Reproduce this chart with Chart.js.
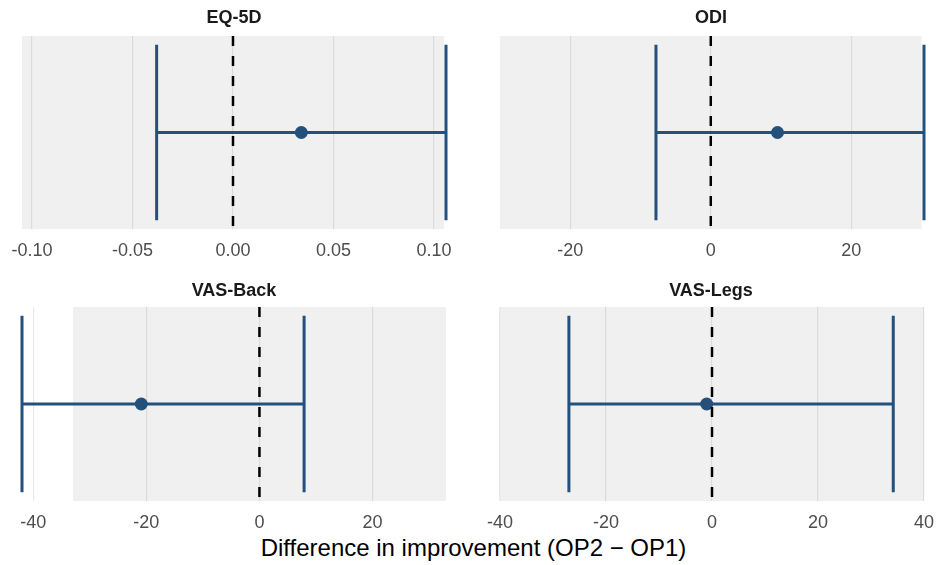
<!DOCTYPE html>
<html>
<head>
<meta charset="utf-8">
<script src="https://cdn.jsdelivr.net/npm/chart.js@4.4.0/dist/chart.umd.min.js"></script>
<style>
  body { margin: 0; background: #fff; font-family: "Liberation Sans", Arial, sans-serif; }
  #wrap { position: relative; width: 937px; height: 565px; overflow: hidden; }
  #wrap canvas { position: absolute; }
  .strip { position: absolute; width: 200px; margin-left: -100px; text-align: center;
           font-weight: bold; font-size: 18px; line-height: 20px; color: #1a1a1a; }
  #xtitle { position: absolute; left: 0; width: 947px; top: 534px; text-align: center;
            font-size: 24px; line-height: 28px; color: #000; }
</style>
</head>
<body>
<div id="wrap">
  <div id="xtitle">Difference in improvement (OP2 − OP1)</div>
</div>
<script>
// values
const panels = ['EQ-5D', 'ODI', 'VAS-Back', 'VAS-Legs'];
const estimates = [0.034, 9.5, -20.9, -1.0];
const lowerCI = [-0.038, -7.8, -42.0, -27.0];
const upperCI = [0.106, 30.35, 7.9, 34.2];
// grey band behind each panel
const bandMin = [-0.105, -30, -33, -40];
const bandMax = [0.105, 30, 33, 40];
const xTicks = [
    [-0.10, -0.05, 0, 0.05, 0.10],
    [-20, 0, 20],
    [-40, -20, 0, 20],
    [-40, -20, 0, 20, 40]
];
const tickDecimals = [2, 0, 0, 0];
const refLine = 0;

const barColor = '#24507c';
const capBottom = 0.045, capTop = 0.955, midY = 0.5;

// where each facet sits on the page
function layoutFor(i) {
    const col = i % 2, row = Math.floor(i / 2);
    return {
        left: col ? 470 : 0,
        width: col ? 467 : 470,
        top: row ? 262 : 0,
        height: row ? 272 : 262,
        padTop: row ? 45 : 36,
        padLeft: col ? 30 : 22,
        padRight: col ? 13 : 24,
        stripX: col ? 711 : 234,
        stripY: row ? 280 : 7
    };
}

const bandPlugin = {
    id: 'band',
    beforeDatasetsDraw(chart, args, opts) {
        const x = chart.scales.x, a = chart.chartArea, ctx = chart.ctx;
        const x0 = Math.max(a.left, x.getPixelForValue(opts.min));
        const x1 = Math.min(a.right, x.getPixelForValue(opts.max));
        ctx.save();
        ctx.fillStyle = 'rgba(0,0,0,0.06)';
        ctx.fillRect(x0, a.top, x1 - x0, a.bottom - a.top);
        ctx.restore();
    }
};

const wrap = document.getElementById('wrap');

panels.forEach((name, i) => {
    const L = layoutFor(i);
    const cv = document.createElement('canvas');
    cv.width = L.width;
    cv.height = L.height;
    cv.style.left = L.left + 'px';
    cv.style.top = L.top + 'px';
    wrap.appendChild(cv);

    const strip = document.createElement('div');
    strip.className = 'strip';
    strip.textContent = name;
    strip.style.left = L.stripX + 'px';
    strip.style.top = L.stripY + 'px';
    wrap.appendChild(strip);

    const xmin = Math.min(lowerCI[i], bandMin[i]);
    const xmax = Math.max(upperCI[i], bandMax[i]);
    const lineDs = (data, extra) => Object.assign({
        type: 'scatter', data: data, showLine: true, pointRadius: 0,
        borderColor: barColor, borderWidth: 3, clip: false
    }, extra || {});

    new Chart(cv, {
        type: 'scatter',
        data: {
            datasets: [
                lineDs([{ x: refLine, y: 1 }, { x: refLine, y: 0 }],
                       { borderColor: '#000', borderWidth: 2.5, borderDash: [10, 10] }),
                { type: 'scatter', data: [{ x: estimates[i], y: midY }], pointRadius: 6.5,
                  backgroundColor: barColor, borderWidth: 0, clip: false },
                lineDs([{ x: lowerCI[i], y: midY }, { x: upperCI[i], y: midY }]),
                lineDs([{ x: lowerCI[i], y: capTop }, { x: lowerCI[i], y: capBottom }]),
                lineDs([{ x: upperCI[i], y: capTop }, { x: upperCI[i], y: capBottom }])
            ]
        },
        options: {
            responsive: false,
            animation: false,
            layout: { padding: { top: L.padTop, left: L.padLeft, right: L.padRight, bottom: 0 } },
            plugins: {
                legend: { display: false },
                tooltip: { enabled: false },
                band: { min: bandMin[i], max: bandMax[i] }
            },
            scales: {
                x: {
                    type: 'linear',
                    min: xmin,
                    max: xmax,
                    afterBuildTicks: s => { s.ticks = xTicks[i].map(v => ({ value: v })); },
                    afterFit: s => { s.height = 33; s.paddingLeft = 0; s.paddingRight = 0; },
                    grid: { color: '#e9e9e9', lineWidth: 1.2, drawTicks: false },
                    border: { display: false },
                    ticks: {
                        autoSkip: false, maxRotation: 0, padding: 11,
                        color: '#4d4d4d',
                        font: { family: '"Liberation Sans", Arial, sans-serif', size: 18 },
                        callback: v => v.toFixed(tickDecimals[i])
                    }
                },
                y: { type: 'linear', min: 0, max: 1, display: false }
            }
        },
        plugins: [bandPlugin]
    });
});
</script>
</body>
</html>
